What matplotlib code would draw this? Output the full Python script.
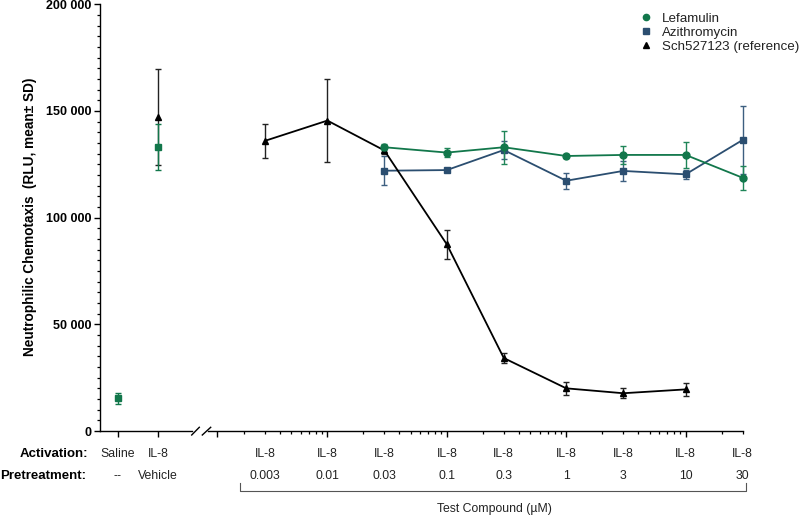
import matplotlib
matplotlib.use("Agg")
import matplotlib.pyplot as plt
import matplotlib.transforms as mtransforms
from matplotlib.lines import Line2D
from matplotlib.ticker import FixedLocator, FuncFormatter, MultipleLocator, NullFormatter

plt.rcParams['font.family'] = ['Liberation Sans', 'DejaVu Sans']

# ---------------- data ----------------
ctrl_labels_act = ["Saline", "IL-8"]
ctrl_labels_pre = ["--", "Vehicle"]
ctrl_pos = [0, 1]
ctrl_mean = [15300, 133100]
ctrl_sd = [2500, 10800]
veh_sch_mean = [147000]
veh_sch_sd = [22500]

conc = [0.03, 0.1, 0.3, 1, 3, 10, 30]
lef_mean = [133000, 130500, 133000, 128900, 129400, 129400, 118700]
lef_sd = [1500, 2200, 7800, 1000, 4400, 6000, 5700]
azi_mean = [122000, 122300, 131700, 117300, 121900, 120300, 136400]
azi_sd = [6800, 1000, 4300, 3800, 4800, 2000, 16000]

sch_conc = [0.003, 0.01, 0.03, 0.1, 0.3, 1, 3, 10]
sch_mean = [136000, 145500, 131500, 87500, 34200, 20000, 17700, 19500]
sch_sd = [8000, 19400, 1500, 6800, 2200, 2900, 2400, 3100]

test_conc = [0.003, 0.01, 0.03, 0.1, 0.3, 1, 3, 10, 30]
test_labels = ["0.003", "0.01", "0.03", "0.1", "0.3", "1", "3", "10", "30"]

GREEN = "#12774b"
BLUE = "#2b4e70"
BLACK = "#000000"

W, H = 800, 519
fig = plt.figure(figsize=(W / 100, H / 100), dpi=100)

def fx(px):
    return px / W

def fy(py):
    return 1 - py / H

ybot, ytop = 431, 4.3
axL = fig.add_axes([fx(100), fy(ybot), fx(92), (ybot - ytop) / H])
axR = fig.add_axes([fx(208), fy(ybot), fx(534.6), (ybot - ytop) / H], sharey=axL)
for a in (axL, axR):
    a.patch.set_alpha(0)

axL.set_ylim(0, 200000)
axL.set_xlim(-0.45, 1.85)
axR.set_xscale("log")
axR.set_xlim(0.001, 30)

ekw = dict(capsize=2.3, elinewidth=1.0, capthick=1.0, linewidth=1.3)

def noclip(cont):
    line, caps, bars = cont.lines
    if line is not None:
        line.set_clip_on(False)
    for c in caps:
        c.set_clip_on(False)
    for b in bars:
        b.set_clip_on(False)

# controls
noclip(axL.errorbar([ctrl_pos[1]], veh_sch_mean, yerr=veh_sch_sd, fmt="^", color=BLACK,
                    ecolor="#222222", zorder=2, markersize=4.8, **ekw))
noclip(axL.errorbar(ctrl_pos, ctrl_mean, yerr=ctrl_sd, fmt="s", color=GREEN, ls="none",
                    zorder=3, markersize=5, **ekw))

# test compounds
noclip(axR.errorbar(conc, azi_mean, yerr=azi_sd, fmt="-s", color=BLUE, ecolor="#3d5f80",
                    zorder=2, label="Azithromycin", markersize=5, **ekw))
noclip(axR.errorbar(sch_conc, sch_mean, yerr=sch_sd, fmt="-^", color=BLACK,
                    ecolor="#222222", zorder=3, label="Sch527123 (reference)",
                    markersize=4.8, **ekw))
noclip(axR.errorbar(conc, lef_mean, yerr=lef_sd, fmt="-o", color=GREEN, ecolor="#1f8558",
                    zorder=4, label="Lefamulin", markersize=5, **ekw))

# spines
for a in (axL, axR):
    a.spines["top"].set_visible(False)
    a.spines["right"].set_visible(False)
    a.spines["bottom"].set_linewidth(1.0)
axR.spines["left"].set_visible(False)
axL.spines["left"].set_linewidth(1.0)

# y ticks
axL.yaxis.set_major_locator(MultipleLocator(50000))
axL.yaxis.set_minor_locator(MultipleLocator(5000))
axL.yaxis.set_major_formatter(FuncFormatter(lambda v, p: f"{int(v):,}".replace(",", " ")))
axL.tick_params(axis="y", which="major", length=4.3, width=1.0, labelsize=9,
                pad=2)
axL.tick_params(axis="y", which="minor", length=2.2, width=0.9)
for lab in axL.get_yticklabels():
    lab.set_fontweight("bold")
axR.tick_params(axis="y", which="both", left=False, labelleft=False)

# x ticks
axL.set_xticks(ctrl_pos)
axL.set_xticklabels([])
axL.tick_params(axis="x", which="major", length=4.5, width=1.0)
axR.xaxis.set_major_locator(FixedLocator([0.00118, 0.01, 0.1, 1, 10]))
minor = []
for dec in [0.001, 0.01, 0.1, 1]:
    minor += [dec * k for k in range(2, 10)]
minor += [20, 30]
axR.xaxis.set_minor_locator(FixedLocator(minor))
axR.xaxis.set_major_formatter(NullFormatter())
axR.xaxis.set_minor_formatter(NullFormatter())
axR.tick_params(axis="x", which="major", length=4.5, width=1.0)
axR.tick_params(axis="x", which="minor", length=2.4, width=0.9)

# y label
fig.text(fx(30), fy(217), "Neutrophilic Chemotaxis  (RLU, mean\u00b1 SD)", rotation=90,
         ha="center", va="center", fontsize=9.8, fontweight="bold")

# axis break marks
for x0, x1 in [(191.7, 199.3), (202.3, 210.7)]:
    fig.add_artist(Line2D([fx(x0), fx(x1)], [fy(435), fy(427.3)], color="black",
                          lw=1.0, transform=fig.transFigure))

# bottom row labels
fig.text(fx(88), fy(454), "Activation:", ha="right", va="center", fontsize=9.5,
         fontweight="bold")
fig.text(fx(86), fy(476), "Pretreatment:", ha="right", va="center", fontsize=9.5,
         fontweight="bold")
trL = mtransforms.blended_transform_factory(axL.transData, fig.transFigure)
trR = mtransforms.blended_transform_factory(axR.transData, fig.transFigure)
tcol = "#222222"
for p, a_lab, p_lab in zip(ctrl_pos, ctrl_labels_act, ctrl_labels_pre):
    axL.text(p, fy(454), a_lab, transform=trL, ha="center", va="center", fontsize=8.8,
             color=tcol, clip_on=False)
    axL.text(p, fy(476), p_lab, transform=trL, ha="center", va="center", fontsize=8.8,
             color=tcol, clip_on=False)
for c, lab in zip(test_conc, test_labels):
    axR.text(c, fy(454), "IL-8", transform=trR, ha="center", va="center", fontsize=8.8,
             color=tcol, clip_on=False)
    axR.text(c, fy(476), lab, transform=trR, ha="center", va="center", fontsize=8.8,
             color=tcol, clip_on=False)

# bracket
fig.add_artist(Line2D([fx(240), fx(240), fx(746), fx(746)],
                      [fy(483), fy(491), fy(491), fy(483)], color="#555555", lw=0.8,
                      transform=fig.transFigure))
fig.text(fx(494), fy(509), "Test Compound (\u00b5M)", ha="center", va="center",
         fontsize=8.8, color=tcol)

# legend
h, l = axR.get_legend_handles_labels()
order = [l.index("Lefamulin"), l.index("Azithromycin"), l.index("Sch527123 (reference)")]
handles = []
for i in order:
    line = h[i][0]
    handles.append(Line2D([], [], ls="none", marker=line.get_marker(),
                          color=line.get_color(), markersize=4.5))
leg = fig.legend(handles, [l[i] for i in order], loc="upper left",
                 bbox_to_anchor=(fx(639), fy(12.5)), frameon=False, fontsize=9.6,
                 handlelength=1.0, handletextpad=0.75, labelspacing=0.12,
                 borderpad=0, borderaxespad=0)
for t in leg.get_texts():
    t.set_color(tcol)

fig.savefig("out.png", dpi=100)
